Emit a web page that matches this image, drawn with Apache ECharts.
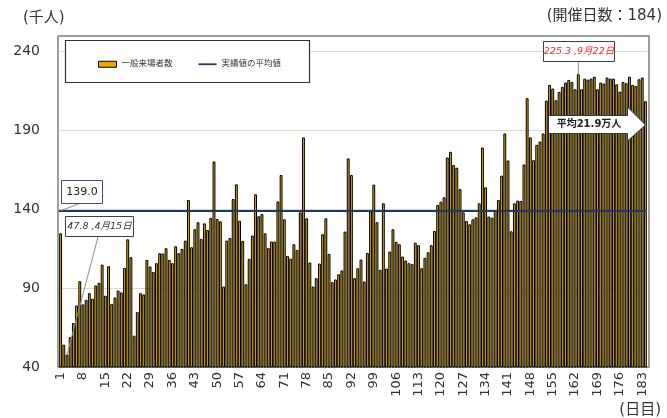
<!DOCTYPE html>
<html>
<head>
<meta charset="utf-8">
<script src="https://cdn.jsdelivr.net/npm/echarts@6/dist/echarts.min.js"></script>
<style>
  html, body { margin: 0; padding: 0; background: #fff; }
  #chart { width: 667px; height: 418px; }
</style>
</head>
<body>
<div id="chart"></div>
<script>
// ---- data ----
const days = Array.from({ length: 184 }, (_, i) => String(i + 1));
const visitors = [
  124.6, 54.1, 47.8, 58.9, 67.8, 78.9, 94.3, 79.6, 82.5, 86.7,
  83.2, 91.6, 93.3, 104.8, 85.1, 103.8, 79.8, 84.0, 88.4, 87.2,
  102.7, 120.8, 109.5, 59.8, 74.7, 86.7, 85.9, 107.8, 103.6, 100.2,
  105.7, 112.0, 111.8, 115.2, 107.8, 105.7, 116.4, 112.0, 114.7, 120.0,
  145.7, 115.8, 127.2, 131.6, 121.1, 130.9, 126.7, 134.3, 170.1, 133.7,
  132.2, 90.9, 120.0, 121.7, 146.3, 155.6, 132.6, 119.8, 92.4, 108.4,
  123.2, 149.3, 135.4, 136.8, 124.6, 115.2, 119.4, 119.4, 144.8, 161.5,
  133.5, 110.3, 108.6, 117.7, 114.1, 137.9, 185.3, 134.1, 106.1, 90.9,
  96.2, 105.5, 124.0, 134.1, 111.6, 93.7, 95.4, 98.7, 101.1, 125.7,
  172.0, 161.5, 96.2, 102.5, 108.0, 94.1, 112.2, 138.5, 155.4, 131.6,
  101.5, 143.6, 102.3, 113.1, 127.2, 119.2, 117.7, 109.9, 107.4, 105.7,
  105.1, 118.7, 117.1, 102.5, 109.1, 112.6, 117.1, 126.1, 142.5, 144.6,
  147.4, 172.6, 176.2, 167.8, 166.1, 152.6, 137.9, 132.4, 130.3, 133.5,
  134.7, 143.6, 178.9, 153.7, 135.2, 134.5, 138.7, 145.7, 161.1, 187.8,
  170.7, 125.9, 143.6, 145.3, 145.1, 168.2, 210.1, 185.3, 170.9, 180.6,
  182.7, 187.8, 208.6, 218.5, 216.2, 208.8, 214.1, 217.3, 220.0, 221.7,
  220.4, 215.8, 225.3, 215.8, 222.5, 221.9, 222.5, 223.8, 215.8, 220.0,
  219.4, 223.2, 222.5, 222.5, 218.9, 214.3, 220.4, 219.6, 223.8, 218.5,
  217.9, 222.1, 223.2, 208.2
];
const avgValue = 139.0;
const seriesNames = ['一般来場者数', '実績値の平均値'];
const yMin = 40, yMax = 240, yInterval = 50;
const minPoint = { index: 2, value: 47.8, label: '47.8 ,4月15日' };
const maxPoint = { index: 162, value: 225.3, label: '225.3 ,9月22日' };
const avgLabel = '139.0';
const arrowText = '平均21.9万人';
const unitText = '(千人)';
const daysText = '(開催日数：184)';
const xUnitText = '(日目)';

// ---- chart ----
const FONT = "'DejaVu Sans', 'Noto Sans CJK JP', sans-serif";
const chart = echarts.init(document.getElementById('chart'), null, { renderer: 'canvas' });

const option = {
  animation: false,
  backgroundColor: '#fff',
  grid: { left: 59, right: 20, top: 51, bottom: 51, containLabel: false },
  legend: {
    left: 93, top: 55, z: 10,
    itemWidth: 18, itemHeight: 6, itemGap: 26,
    textStyle: { fontSize: 8.5, color: '#333', fontFamily: FONT },
    data: [
      { name: seriesNames[0], icon: 'rect', itemStyle: { color: '#EAAB00', borderColor: '#000', borderWidth: 1 } },
      { name: seriesNames[1], icon: 'path://M0,0 L20,0 L20,2 L0,2 Z', itemStyle: { color: '#1F3864' } }
    ]
  },
  xAxis: {
    type: 'category',
    data: days,
    axisTick: { show: false },
    axisLine: { lineStyle: { color: '#A6A6A6', width: 1 } },
    axisLabel: { interval: 6, rotate: 90, fontSize: 13, color: '#333', fontFamily: FONT, margin: 5 }
  },
  yAxis: {
    type: 'value',
    min: yMin, max: yMax, interval: yInterval,
    axisLine: { show: false },
    axisTick: { show: false },
    splitLine: { lineStyle: { color: '#D9D9D9', width: 1 } },
    axisLabel: { fontSize: 14, color: '#333', fontFamily: FONT, margin: 19 }
  },
  series: [
    {
      name: seriesNames[0],
      type: 'bar',
      data: visitors,
      barCategoryGap: '10%',
      itemStyle: { color: '#E8A900', borderColor: '#000', borderWidth: 1 },
      z: 2
    },
    {
      name: seriesNames[1],
      type: 'line',
      data: [],
      symbol: 'none',
      lineStyle: { color: '#1F3864', width: 2 },
      itemStyle: { color: '#1F3864' },
      markLine: {
        silent: true,
        symbol: 'none',
        label: { show: false },
        lineStyle: { color: '#1F3864', width: 2, type: 'solid' },
        data: [{ yAxis: avgValue }]
      },
      z: 3
    }
  ]
};
chart.setOption(option);

// ---- annotations anchored through the chart's own scales ----
const pMin = chart.convertToPixel({ seriesIndex: 0 }, [minPoint.index, minPoint.value]);
const pMax = chart.convertToPixel({ seriesIndex: 0 }, [maxPoint.index, maxPoint.value]);
const yAvg = chart.convertToPixel({ yAxisIndex: 0 }, avgValue);
const yBot = chart.convertToPixel({ yAxisIndex: 0 }, yMin);
const xLeft = 58, xRight = 649;

chart.setOption({
  graphic: [
    // outer plot frame
    { type: 'rect', z: 1, silent: true,
      shape: { x: xLeft, y: 36, width: xRight - xLeft, height: yBot - 36 },
      style: { fill: 'none', stroke: '#7F7F7F', lineWidth: 1.5 } },
    // legend box
    { type: 'rect', z: 5, silent: true,
      shape: { x: 65.5, y: 40.5, width: 244, height: 42 },
      style: { fill: '#fff', stroke: '#333', lineWidth: 1.2 } },
    // texts
    { type: 'text', left: 23, top: 11, z: 20,
      style: { text: unitText, fontSize: 15, fill: '#333', fontFamily: FONT } },
    { type: 'text', right: 5, top: 9, z: 20,
      style: { text: daysText, fontSize: 15, fill: '#333', fontFamily: FONT } },
    { type: 'text', right: 6, bottom: 0, z: 20,
      style: { text: xUnitText, fontSize: 15, fill: '#333', fontFamily: FONT } },
    // average label box + leader
    { type: 'line', z: 20, silent: true,
      shape: { x1: 81, y1: 203, x2: xLeft + 3, y2: yAvg },
      style: { stroke: '#8C8C8C', lineWidth: 1 } },
    { type: 'rect', z: 20, silent: true,
      shape: { x: 61.5, y: 180.5, width: 41, height: 23 },
      style: { fill: '#fff', stroke: '#2F4F8F', lineWidth: 1 } },
    { type: 'text', z: 21, silent: true, x: 82, y: 192,
      style: { text: avgLabel, fontSize: 11, fill: '#222', fontFamily: FONT, textAlign: 'center', textVerticalAlign: 'middle' } },
    // min label box + leader
    { type: 'line', z: 20, silent: true,
      shape: { x1: 98, y1: 237, x2: pMin[0], y2: pMin[1] },
      style: { stroke: '#8C8C8C', lineWidth: 1 } },
    { type: 'rect', z: 20, silent: true,
      shape: { x: 65.5, y: 216.5, width: 68, height: 20 },
      style: { fill: '#fff', stroke: '#404040', lineWidth: 1 } },
    { type: 'text', z: 21, silent: true, x: 99.5, y: 227,
      style: { text: minPoint.label, fontSize: 9.5, fontStyle: 'italic', fill: '#333', fontFamily: FONT, textAlign: 'center', textVerticalAlign: 'middle' } },
    // max label box + leader
    { type: 'line', z: 20, silent: true,
      shape: { x1: pMax[0], y1: 62, x2: pMax[0], y2: pMax[1] },
      style: { stroke: '#8C8C8C', lineWidth: 1 } },
    { type: 'rect', z: 20, silent: true,
      shape: { x: 543.5, y: 41.5, width: 71, height: 20 },
      style: { fill: '#fff', stroke: '#404040', lineWidth: 1 } },
    { type: 'text', z: 21, silent: true, x: 579, y: 52,
      style: { text: maxPoint.label, fontSize: 9.5, fontStyle: 'italic', fill: '#FF2020', fontFamily: FONT, textAlign: 'center', textVerticalAlign: 'middle' } },
    // arrow
    { type: 'polygon', z: 20, silent: true,
      shape: { points: [[548.5, 115.5], [627.5, 115.5], [627.5, 107], [645.5, 125], [627.5, 141], [627.5, 133.5], [548.5, 133.5]] },
      style: { fill: '#fff', stroke: '#1F3864', lineWidth: 1 } },
    { type: 'text', z: 21, silent: true, x: 589, y: 124.5,
      style: { text: arrowText, fontSize: 10, fontWeight: 'bold', fill: '#222', fontFamily: FONT, textAlign: 'center', textVerticalAlign: 'middle' } }
  ]
});
</script>
</body>
</html>
